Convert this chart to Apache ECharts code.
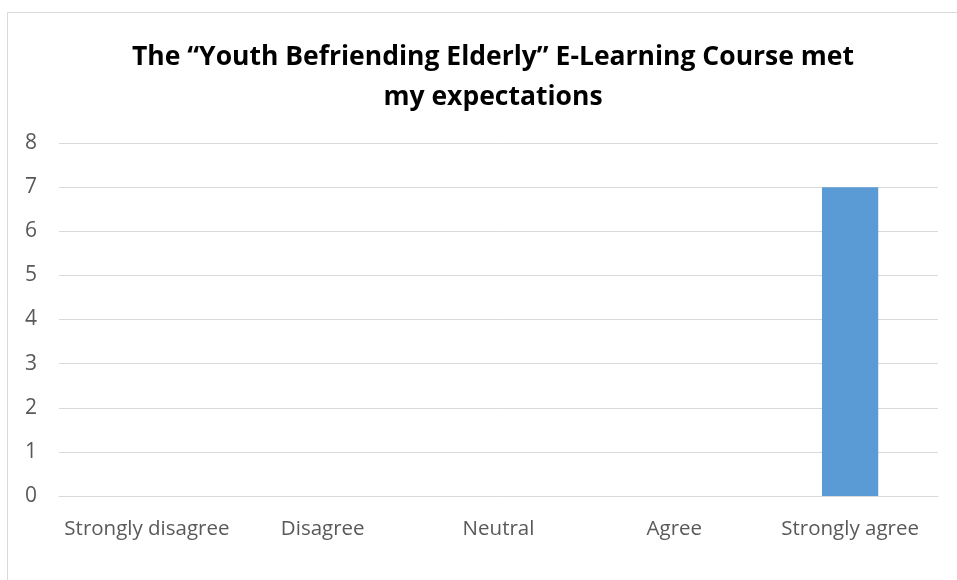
<!DOCTYPE html>
<html>
<head>
    <meta charset="UTF-8">
    <title>E-Learning Course</title>
    <script type="text/javascript" src="https://cdn.jsdelivr.net/npm/echarts@6/dist/echarts.min.js"></script>
    <style>
        body,html{
            margin: 0;
            padding: 0;
            width: 100%;
            height: 100%;
            background: #fff;
        }
        #bar{
            width: 957px;
            height: 580px;
        }
    </style>
</head>
<body>
<div id="bar"></div>
<script>
    // data
    var categories = ['Strongly disagree', 'Disagree', 'Neutral', 'Agree', 'Strongly agree'];
    var counts = [0, 0, 0, 0, 7];
    var yTicks = [0, 1, 2, 3, 4, 5, 6, 7, 8];

    var font = 'Open Sans';
    var chart = echarts.init(document.getElementById('bar'));
    var option = {
        animation: false,
        graphic: [{
            type: 'rect',
            shape: {x: 7.5, y: 12.5, width: 1000, height: 1000},
            style: {fill: 'none', stroke: '#d9d9d9', lineWidth: 1}
        }],
        title: {
            text: 'The \u201cYouth Befriending Elderly\u201d E-Learning Course met\nmy expectations',
            left: 488,
            top: 32,
            textAlign: 'center',
            textStyle: {fontFamily: font, fontWeight: 'bold', fontSize: 26.5, lineHeight: 40, color: '#000'}
        },
        grid: {left: 59, right: 19, top: 143, bottom: 84},
        xAxis: {
            type: 'category',
            data: categories,
            axisLine: {lineStyle: {color: '#d9d9d9'}},
            axisTick: {show: false},
            axisLabel: {interval: 0, color: '#595959', fontFamily: font, fontSize: 20.5, margin: 23}
        },
        yAxis: {
            type: 'value',
            min: yTicks[0],
            max: yTicks[yTicks.length - 1],
            interval: 1,
            axisLine: {show: false},
            axisTick: {show: false},
            splitLine: {lineStyle: {color: '#d9d9d9'}},
            axisLabel: {color: '#595959', fontFamily: font, fontSize: 21, margin: 22, padding: [3, 0, 0, 0]}
        },
        series: [{
            type: 'bar',
            data: counts,
            barCategoryGap: '68%',
            itemStyle: {color: '#5b9bd5'}
        }]
    };
    chart.setOption(option);
</script>
</body>
</html>
